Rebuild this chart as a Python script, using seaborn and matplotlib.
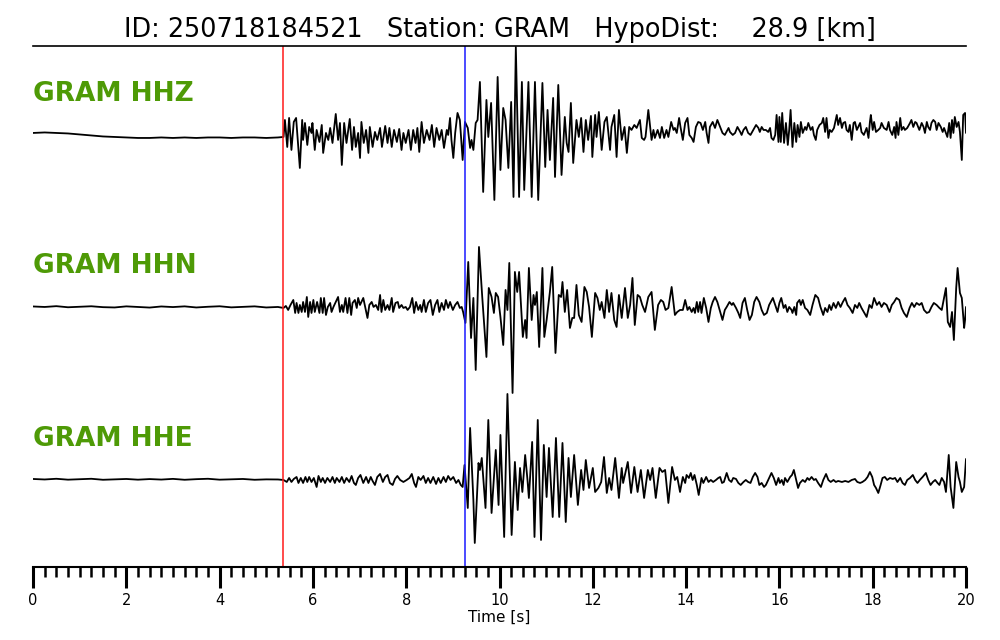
import pandas as pd
import seaborn as sns
import matplotlib.pyplot as plt
from matplotlib.ticker import MultipleLocator

# event / station info shown in the title
event_id = "250718184521"
station = "GRAM"
hypo_dist = 28.9
channels = ["HHZ", "HHN", "HHE"]

# picks in seconds (red = P, blue = S)
p_pick = 5.366
s_pick = 9.254

# pre-event noise samples (s) shared by all three components
pre_t = [0.0, 0.25, 0.5, 0.75, 1.0, 1.25, 1.5, 1.75, 2.0, 2.25, 2.5,
         2.75, 3.0, 3.25, 3.5, 3.75, 4.0, 4.25, 4.5, 4.75, 5.0, 5.25]

# HHZ: times of the turning points (s) and amplitudes (counts)
hhz_t = pre_t + [
    5.37, 5.40, 5.45, 5.49, 5.54, 5.59, 5.64, 5.68, 5.72, 5.77,
    5.79, 5.83, 5.88, 5.92, 5.97, 5.99, 6.04, 6.08, 6.14, 6.19,
    6.22, 6.28, 6.33, 6.37, 6.42, 6.49, 6.54, 6.58, 6.62, 6.67,
    6.72, 6.79, 6.84, 6.88, 6.92, 6.97, 7.01, 7.04, 7.09, 7.14,
    7.19, 7.22, 7.28, 7.33, 7.38, 7.44, 7.48, 7.55, 7.60, 7.64,
    7.69, 7.74, 7.80, 7.85, 7.90, 7.94, 7.99, 8.05, 8.10, 8.15,
    8.20, 8.24, 8.28, 8.33, 8.38, 8.44, 8.50, 8.55, 8.60, 8.65,
    8.71, 8.76, 8.81, 8.87, 8.90, 8.94, 8.97, 9.01, 9.05, 9.10,
    9.15, 9.21,
    9.26, 9.32, 9.37, 9.40, 9.44, 9.49, 9.53, 9.58, 9.65, 9.72,
    9.76, 9.82, 9.89, 9.96, 10.02, 10.08, 10.13, 10.19, 10.25, 10.30,
    10.35, 10.42, 10.48, 10.53, 10.62, 10.69, 10.76, 10.83, 10.92, 10.98,
    11.03, 11.08, 11.15, 11.19, 11.26, 11.33, 11.40, 11.44, 11.48, 11.53,
    11.58, 11.65, 11.70, 11.75, 11.80, 11.85, 11.90, 11.96, 11.99, 12.05,
    12.08, 12.13, 12.19, 12.25, 12.30, 12.37, 12.40, 12.46, 12.51, 12.56,
    12.62, 12.68, 12.73, 12.78, 12.83, 12.89, 12.94, 13.01, 13.05, 13.10,
    13.13, 13.19, 13.26, 13.30, 13.33, 13.39, 13.44, 13.48, 13.53, 13.58,
    13.62, 13.68, 13.73,
    13.76, 13.80, 13.85, 13.88, 13.93, 13.98, 14.03, 14.07, 14.12, 14.16,
    14.21, 14.26, 14.31, 14.36, 14.41, 14.44, 14.48, 14.51, 14.57, 14.62,
    14.67, 14.73, 14.78, 14.83, 14.91, 14.94, 15.00, 15.05, 15.10, 15.16,
    15.19, 15.23, 15.28, 15.33, 15.38, 15.44, 15.50, 15.55, 15.58, 15.62,
    15.66, 15.71, 15.76, 15.80, 15.83, 15.87, 15.91, 15.94, 15.98, 16.00,
    16.03, 16.06, 16.10, 16.14, 16.18, 16.21, 16.24, 16.28, 16.32, 16.36,
    16.39, 16.43, 16.46, 16.50, 16.55, 16.58, 16.62, 16.67, 16.71, 16.74,
    16.78, 16.81, 16.86, 16.91, 16.94, 16.98, 17.01, 17.05, 17.08, 17.12,
    17.17, 17.23, 17.26, 17.30, 17.34, 17.37, 17.41, 17.44, 17.48, 17.51,
    17.55, 17.59, 17.62, 17.66, 17.69, 17.73, 17.76, 17.81, 17.87, 17.91,
    17.94, 17.96, 18.00, 18.03, 18.07, 18.12, 18.16, 18.19, 18.24, 18.30,
    18.34, 18.37, 18.42, 18.46, 18.49, 18.51, 18.55, 18.59, 18.62, 18.66,
    18.69, 18.74, 18.80, 18.83, 18.87, 18.91, 18.94, 19.00, 19.05, 19.09,
    19.12, 19.16, 19.19, 19.23, 19.26, 19.30, 19.34, 19.37, 19.41, 19.46,
    19.50, 19.53, 19.57, 19.60, 19.64, 19.67, 19.70, 19.73, 19.76, 19.80,
    19.84, 19.87, 19.91, 19.94, 19.98, 20.0]
hhz_amp = [
    2, 2.5, 2, 1.5, 0.5, -0.5, -1.5, -2, -2.5, -3, -3,
    -2.5, -3, -2.5, -3, -2.5, -2.5, -3, -2.5, -2.5, -3, -2.5,
    -2, 15, -12, 17, -15, 13, 17, -8, -33, 15,
    -5, 12, -10, 8, 2, 12, -15, 5, -7, 10,
    -18, 2, -5, 7, -8, 21, -5, 12, -30, 12,
    -8, 16, -15, 8, -12, 2, -23, 13, -8, 5,
    -18, 8, -12, 3, -5, 7, -12, 9, -8, 7,
    -12, 5, -7, 6, -15, 2, -8, 5, -15, 5,
    -8, 7, -17, 13, -8, 5, -5, 10, -12, 7,
    -5, 5, -13, 5, 0, 17, -5, -23, 2, 22,
    15, -25,
    13, 7, -13, -5, -15, 12, 15, 53, -57, 35,
    -2, 32, -65, 58, -35, 27, 15, -33, 33, -62,
    88, -62, 53, -55, 53, -62, 53, -65, 52, -32,
    25, -25, 37, -42, 50, -40, 18, -8, -17, 32,
    -28, 15, -2, 17, -17, 15, -5, 19, -22, 20,
    -2, 23, -15, 13, 18, -15, 8, 20, -22, 25,
    -5, 8, -18, 8, 5, 10, 7, 15, -3, -5,
    -2, 25, -5, 5, -3, 5, -3, 8, -3, 5,
    -2, 13, 5,
    7, 2, 17, 8, -5, 12, 17, 0, -3, -7,
    8, 13, 12, 5, 13, 2, -8, 8, 13, 7,
    15, 8, 2, 0, 7, 3, 0, 2, 8, 3,
    0, 5, 8, 2, 0, 5, 10, 7, 3, 8,
    5, 5, 3, 7, -3, -5, 0, 20, -7, 18,
    -7, 22, -8, 12, -10, 5, 25, -12, 12, -7,
    10, -2, 13, 2, 8, 5, 12, 5, 8, 0,
    -5, 5, 10, 12, 17, 3, 17, -3, 5, 3,
    7, 20, 10, 17, 7, 12, 13, 5, 3, 10,
    -5, 12, 13, 5, 8, 12, 3, 0, 7, -3,
    13, 20, 5, 13, 3, 5, 7, 12, 7, 5,
    13, 5, 0, 8, -3, 13, 0, 17, 5, 8,
    5, 7, 12, 15, 8, 13, 12, 5, 12, 8,
    2, 13, 8, 5, 12, 15, 13, 5, 12, 8,
    3, 7, 2, -2, 12, -3, 15, 2, 18, 8,
    13, 3, -25, 20, 22, 2]

# HHN
hhn_t = pre_t + [
    5.37, 5.42, 5.47, 5.52, 5.58, 5.62, 5.65, 5.69, 5.72, 5.76,
    5.79, 5.83, 5.87, 5.90, 5.94, 5.97, 6.01, 6.04, 6.09, 6.14,
    6.17, 6.21, 6.24, 6.28, 6.32, 6.37, 6.40, 6.44, 6.49, 6.54,
    6.58, 6.62, 6.65, 6.70, 6.74, 6.78, 6.82, 6.85, 6.90, 6.94,
    6.97, 7.01, 7.04, 7.08, 7.12, 7.17, 7.21, 7.26, 7.30, 7.35,
    7.40, 7.44, 7.47, 7.51, 7.55, 7.60, 7.64, 7.69, 7.72, 7.77,
    7.82, 7.85, 7.90, 7.94, 7.99, 8.03, 8.08, 8.13, 8.17, 8.21,
    8.26, 8.30, 8.33, 8.38, 8.42, 8.47, 8.52, 8.57, 8.62, 8.67,
    8.71, 8.76, 8.81, 8.85, 8.90, 8.94, 9.00, 9.05, 9.10, 9.15,
    9.19, 9.22, 9.27, 9.33, 9.39, 9.44, 9.49, 9.56, 9.63, 9.72,
    9.77, 9.83, 9.88, 9.92, 9.97, 10.02, 10.08, 10.13, 10.17, 10.21,
    10.28, 10.33, 10.38, 10.42, 10.50, 10.55, 10.58, 10.63, 10.69, 10.73,
    10.76, 10.80, 10.85, 10.92, 10.96, 11.01, 11.08, 11.13, 11.20, 11.27,
    11.32, 11.35, 11.40, 11.45, 11.51, 11.56, 11.60, 11.65, 11.70, 11.76,
    11.82, 11.87, 11.92, 11.98, 12.05, 12.10, 12.15, 12.19, 12.25, 12.30,
    12.35, 12.40, 12.46, 12.51, 12.56, 12.62, 12.69, 12.75, 12.80, 12.85,
    12.90, 12.96, 13.01, 13.06, 13.12, 13.19, 13.26, 13.33, 13.40, 13.46,
    13.51, 13.56, 13.62, 13.69,
    13.76, 13.81, 13.87, 13.93, 13.98, 14.03, 14.07, 14.12, 14.16, 14.19,
    14.23, 14.26, 14.30, 14.33, 14.38, 14.43, 14.48, 14.53, 14.57, 14.62,
    14.67, 14.73, 14.78, 14.83, 14.87, 14.93, 14.98, 15.01, 15.07, 15.12,
    15.16, 15.21, 15.26, 15.31, 15.36, 15.41, 15.46, 15.51, 15.57, 15.62,
    15.67, 15.73, 15.78, 15.86, 15.91, 15.96, 16.00, 16.04, 16.09, 16.13,
    16.17, 16.21, 16.26, 16.28, 16.32, 16.36, 16.38, 16.43, 16.46, 16.50,
    16.55, 16.60, 16.66, 16.71, 16.77, 16.83, 16.88, 16.94, 16.98, 17.03,
    17.07, 17.11, 17.16, 17.21, 17.26, 17.31, 17.36, 17.41, 17.46, 17.51,
    17.57, 17.62, 17.67, 17.71, 17.76, 17.81, 17.87, 17.93, 17.98, 18.03,
    18.09, 18.14, 18.19, 18.24, 18.30, 18.36, 18.41, 18.46, 18.51, 18.57,
    18.62, 18.67, 18.73, 18.79, 18.84, 18.89, 18.94, 19.00, 19.05, 19.10,
    19.16, 19.21, 19.26, 19.31, 19.37, 19.43, 19.48, 19.53, 19.57, 19.61,
    19.66, 19.70, 19.74, 19.79, 19.82, 19.87, 19.91, 19.96, 19.98, 20.0]
hhn_amp = [
    0.5, 0, 0.8, -0.3, 0.2, 0.7, -0.2, -0.5, 0.6, 0, -0.6,
    0.5, -0.1, 0.6, -0.5, 0.2, 0.7, -0.4, 0.1, 0.6, -0.5, 0,
    -1, 1, -3, 2, 7, -6, 4, -6, 2, -5,
    5, -5, 10, -10, 5, -6, 7, -5, 5, -6,
    9, -6, 9, -8, 0, 4, -5, 0, 5, 10,
    -5, 2, -5, 9, -6, 9, -8, 4, 7, -1,
    9, 2, 5, 9, 0, -11, 2, 5, 0, 2,
    -3, 12, -5, 7, -3, 2, -3, 9, -5, 4,
    5, -1, 2, -1, 0, -3, 0, 9, -6, 5,
    -3, 2, -5, 7, -5, 4, 7, -8, 2, 7,
    -5, 4, -3, 7, -1, 5, -3, 2, 5, -1,
    0, -5, -16, 45, -31, 9, -63, 60, 10, -50,
    19, 10, -6, 14, 10, -10, -38, 17, -3, 44,
    -86, 35, 15, 35, -30, -13, -31, 39, -13, 12,
    2, 15, -40, 39, -30, -13, 15, 40, -46, 12,
    10, 25, -5, 17, -21, -11, -11, 22, -8, -15,
    20, 15, 0, -30, 14, 9, -3, 5, -11, 17,
    -5, 14, -13, -20, 12, -11, 19, -11, 2, 29,
    -18, 12, 10, 2, -5, 10, 15, -23, 2, 7,
    5, -3, -1, 20,
    -8, -5, -3, -3, 7, -3, 0, -5, -1, -6,
    5, -5, 5, -6, 9, -1, -15, -1, 5, 10,
    5, -5, -13, -3, 0, 5, 2, 4, -1, -6,
    -11, 4, 9, -3, -13, -8, 5, 10, 5, -3,
    -8, -6, 2, 9, 2, -5, 4, 9, -1, 2,
    -5, 0, -3, -6, 0, -8, 4, 7, 2, 7,
    -1, -3, -8, 2, 12, 9, 0, -8, -1, -5,
    2, -3, 4, -1, 5, 0, 5, 9, 2, -1,
    -6, 2, -1, 4, -1, -5, -10, 2, -1, 9,
    2, 5, 0, 4, 2, -5, 2, 5, 9, 7,
    -1, -6, -10, -1, 4, 0, 4, 2, 4, -3,
    -6, -5, 0, 4, 2, -1, -3, 9, 19, -15,
    -20, -5, -33, 19, 39, 14, 9, -21, -13, 0]

# HHE
hhe_t = pre_t + [
    5.37, 5.44, 5.49, 5.54, 5.59, 5.65, 5.69, 5.74, 5.79, 5.84,
    5.88, 5.92, 5.97, 6.02, 6.08, 6.12, 6.17, 6.21, 6.26, 6.31,
    6.37, 6.42, 6.47, 6.51, 6.57, 6.62, 6.67, 6.72, 6.78, 6.83,
    6.88, 6.92, 6.97, 7.02, 7.08, 7.14, 7.19, 7.24, 7.28, 7.33,
    7.38, 7.44, 7.50, 7.55, 7.60, 7.65, 7.71, 7.76, 7.81, 7.87,
    7.94, 8.01, 8.07, 8.12, 8.17, 8.21, 8.26, 8.31, 8.37, 8.42,
    8.47, 8.52, 8.58, 8.64, 8.69, 8.74, 8.80, 8.85, 8.90, 8.95,
    9.01, 9.07, 9.12, 9.17, 9.21, 9.25, 9.32, 9.37, 9.44, 9.47,
    9.55, 9.58, 9.62, 9.70, 9.76, 9.83, 9.92, 9.98, 10.02, 10.10,
    10.17, 10.26, 10.33, 10.39, 10.44, 10.49, 10.55, 10.60, 10.63, 10.70,
    10.75, 10.82, 10.89, 10.95, 11.01, 11.06, 11.14, 11.21, 11.28, 11.35,
    11.42, 11.48, 11.53, 11.60, 11.68, 11.75, 11.80, 11.85, 11.92, 12.00,
    12.05, 12.12, 12.18, 12.24, 12.30, 12.35, 12.40, 12.48, 12.56, 12.62,
    12.65, 12.75, 12.82, 12.89, 12.96, 13.03, 13.10, 13.18, 13.23, 13.28,
    13.35, 13.43, 13.49, 13.55, 13.62, 13.70,
    13.76, 13.81, 13.87, 13.93, 13.98, 14.01, 14.06, 14.10, 14.14, 14.18,
    14.23, 14.27, 14.33, 14.37, 14.43, 14.48, 14.53, 14.58, 14.64, 14.69,
    14.73, 14.77, 14.81, 14.87, 14.92, 14.97, 15.01, 15.07, 15.12, 15.17,
    15.23, 15.28, 15.33, 15.38, 15.43, 15.48, 15.53, 15.57, 15.62, 15.67,
    15.71, 15.76, 15.83, 15.88, 15.93, 15.98, 16.01, 16.05, 16.09, 16.12,
    16.17, 16.23, 16.27, 16.31, 16.36, 16.40, 16.44, 16.50, 16.55, 16.60,
    16.64, 16.69, 16.74, 16.78, 16.83, 16.89, 16.94, 17.00, 17.05, 17.10,
    17.16, 17.21, 17.26, 17.34, 17.41, 17.48, 17.55, 17.62, 17.67, 17.73,
    17.78, 17.84, 17.89, 17.94, 17.99, 18.03, 18.07, 18.12, 18.17, 18.21,
    18.26, 18.31, 18.37, 18.43, 18.48, 18.53, 18.59, 18.64, 18.69, 18.74,
    18.80, 18.86, 18.91, 18.96, 19.01, 19.07, 19.14, 19.19, 19.24, 19.29,
    19.34, 19.39, 19.43, 19.48, 19.53, 19.57, 19.63, 19.67, 19.73, 19.79,
    19.84, 19.87, 19.91, 19.96, 20.0]
hhe_amp = [
    1, 0.5, 1.2, 0.3, 0.8, 1.2, 0.2, 0.6, 1, 0.3, 0.9,
    0.4, 1.1, 0.2, 0.8, 1.2, 0.3, 0.7, 1, 0.2, 0.6, 0.5,
    0, -2, 2, -2, 1, 3, -3, 2, -3, 3,
    -2, 3, -2, 2, -7, 4, -2, 2, -3, 2,
    -2, 3, -3, 2, -2, 3, -3, 2, -2, 4,
    -3, -5, 2, 5, -3, 3, -3, 3, -1, -5,
    3, 6, -2, 3, 5, -3, -5, 1, 4, 0,
    -2, 0, 2, 6, -3, -7, 3, 0, 4, -3,
    2, -3, 3, -4, 2, -3, 3, -2, 4, 0,
    3, -3, 0, -5, -7, 15, -28, 52, -20, -63,
    17, 10, 22, -28, 60, -33, 30, -25, 45, -57,
    86, -55, 18, -30, 12, -12, 25, 0, -18, 38,
    -57, 60, -60, 35, -17, 32, -37, 42, -37, 37,
    -42, 22, -17, 25, -25, 10, -10, 20, -8, 12,
    -12, -8, -2, 23, -13, 2, -10, 22, -18, 12,
    -3, 18, -13, 13, -12, 10, -18, 10, 0, 12,
    -18, 12, 8, 10, -23, 13,
    0, 3, -12, 3, -3, 5, 2, 7, 0, 5,
    -5, -15, 2, -3, 3, -2, 0, -2, 0, 2,
    3, -3, -2, 7, 0, -2, 2, 1, -3, -5,
    -2, 0, -2, -3, 3, 7, 3, -5, -3, -7,
    -5, 0, 7, 2, -5, 2, -3, 0, -5, 2,
    -2, 3, 5, 10, 0, -8, -3, 0, -2, 2,
    0, 3, 0, 1, -3, -7, 0, 6, 0, -2,
    0, -2, -1, -2, -1, -2, 0, 1, -2, -3,
    -2, 0, 3, 8, 3, -5, -8, -13, -5, 2,
    3, 0, 2, 1, 2, -2, 2, -3, -5, 0,
    2, 5, 0, -3, 0, 3, 7, 0, -5, -2,
    0, -3, -5, 2, -2, -12, 25, -7, -28, 18,
    3, -2, -12, -7, 21]

times = {"HHZ": hhz_t, "HHN": hhn_t, "HHE": hhe_t}
amps = {"HHZ": hhz_amp, "HHN": hhn_amp, "HHE": hhe_amp}

# layout: vertical separation of the traces (same units as amplitudes)
trace_offset = [0, -172, -345]
label_lift = 34
label_green = "#4e9a06"

sns.set_style("white")
plt.rcParams["font.family"] = ["DejaVu Sans"]
plt.rcParams.update({"text.color": "black", "axes.labelcolor": "black",
                     "xtick.color": "black", "axes.edgecolor": "black"})

fig = plt.figure(figsize=(10, 6.4), dpi=100)
ax = fig.add_axes([0.033, 0.1141, 0.933, 0.8141])

for ch, off in zip(channels, trace_offset):
    df = pd.DataFrame({"t": times[ch], "amp": amps[ch]})
    df["y"] = df["amp"] + off
    sns.lineplot(data=df, x="t", y="y", ax=ax, color="black", lw=1.3,
                 estimator=None, sort=False)
    ax.text(0.0, off + label_lift, f"{station} {ch}", color=label_green,
            fontsize=19, fontweight="bold", ha="left", va="baseline")

# picks
ax.axvline(p_pick, color="#ff1a1a", lw=1.1)
ax.axvline(s_pick, color="#1a1aff", lw=1.1)

ax.set_xlim(0, 20)
ax.set_ylim(-432, 89)
ax.set_xticks(range(0, 21, 2))
ax.xaxis.set_minor_locator(MultipleLocator(0.25))
ax.tick_params(axis="x", which="both", bottom=True, direction="out",
               color="black", labelcolor="black")
ax.tick_params(axis="x", which="major", length=15, width=2.2, labelsize=10.5, pad=4)
ax.tick_params(axis="x", which="minor", length=7.5, width=1.8)
ax.set_yticks([])
ax.set_ylabel("")
ax.set_xlabel("Time [s]", fontsize=11, labelpad=1)
for side in ["left", "right"]:
    ax.spines[side].set_visible(False)
ax.spines["bottom"].set_linewidth(1.5)
ax.spines["top"].set_linewidth(1.2)

fig.text(0.5, 1 - 37 / 640,
         f"ID: {event_id}   Station: {station}   HypoDist:    {hypo_dist} [km]",
         ha="center", va="baseline", fontsize=18.4)

fig.savefig("out.png", dpi=100)
